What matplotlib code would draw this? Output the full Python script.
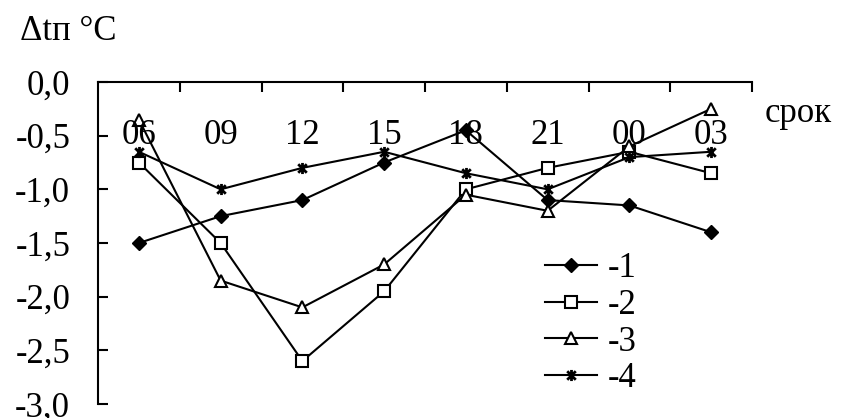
import matplotlib
matplotlib.use('Agg')
import matplotlib.pyplot as plt
from matplotlib.path import Path

plt.rcParams['font.family'] = ['Liberation Serif', 'DejaVu Serif']

hours = ['06', '09', '12', '15', '18', '21', '00', '03']
s1 = [-1.50, -1.25, -1.10, -0.75, -0.45, -1.10, -1.15, -1.40]
s2 = [-0.75, -1.50, -2.60, -1.95, -1.00, -0.80, -0.65, -0.85]
s3 = [-0.35, -1.85, -2.10, -1.70, -1.05, -1.20, -0.60, -0.25]
s4 = [-0.65, -1.00, -0.80, -0.65, -0.85, -1.00, -0.70, -0.65]
labels = ['-1', '-2', '-3', '-4']
yticks = [0.0, -0.5, -1.0, -1.5, -2.0, -2.5, -3.0]

# excel-like star: X with a vertical bar
star = Path([(-1, -1), (1, 1), (-1, 1), (1, -1), (0, -1.3), (0, 1.3)],
            [Path.MOVETO, Path.LINETO, Path.MOVETO, Path.LINETO, Path.MOVETO, Path.LINETO])

fs = 25
fig = plt.figure(figsize=(8.43, 4.18), dpi=100)
ax = fig.add_axes([98/843, 1-404/418, 654/843, 322/418])

x = list(range(len(hours)))
ax.plot(x, s1, color='k', lw=1.5, marker='D', ms=7, mfc='k', mec='k', label=labels[0])
ax.plot(x, s2, color='k', lw=1.5, marker='s', ms=9, mfc='white', mec='k', mew=1.5, label=labels[1])
ax.plot(x, s3, color='k', lw=1.5, marker='^', ms=9, mfc='white', mec='k', mew=1.5, label=labels[2])
ax.plot(x, s4, color='k', lw=1.5, marker=star, ms=8, mfc='none', mec='k', mew=2, label=labels[3])

ax.set_xlim(-0.5, len(hours) - 0.5)
ax.set_ylim(-3.0, 0.0)
for s in ['bottom', 'right']:
    ax.spines[s].set_visible(False)
for s in ['top', 'left']:
    ax.spines[s].set_linewidth(1.5)

ax.xaxis.set_ticks_position('top')
ax.set_xticks([i + 0.5 for i in x])
ax.tick_params(axis='x', direction='in', length=7, width=1.5, labeltop=False)
for i, h in enumerate(hours):
    ax.text(i, -0.5, h, ha='center', va='center', fontsize=fs)

ax.set_yticks(yticks)
ax.set_yticklabels([f'{v:.1f}'.replace('.', ',') for v in yticks])
ax.tick_params(axis='y', direction='in', length=7, width=1.5, pad=20, labelsize=fs)
for ln in ax.lines:
    ln.set_clip_on(False)

fig.text(20/843, 1-40/418, 'Δtп °C', fontsize=fs, va='baseline')
fig.text(765/843, 1-122/418, 'срок', fontsize=fs, va='baseline')

ax.legend(loc='upper left', bbox_to_anchor=(545/843, 1-252/418), bbox_transform=fig.transFigure,
          frameon=False, fontsize=fs, handlelength=1.5, handletextpad=0.3,
          labelspacing=0.11, borderpad=0, borderaxespad=0)

fig.savefig('out.png', dpi=100)
